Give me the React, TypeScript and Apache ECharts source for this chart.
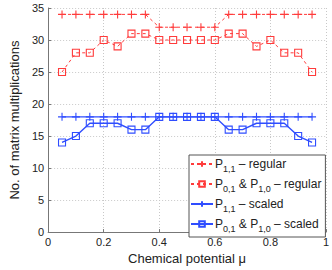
import React, { useEffect, useRef } from "react";
import * as echarts from "echarts";

const mu = [0.05, 0.1, 0.15, 0.2, 0.25, 0.3, 0.35, 0.4, 0.45, 0.5, 0.55, 0.6, 0.65, 0.7, 0.75, 0.8, 0.85, 0.9, 0.95];
const p11Regular = [34, 34, 34, 34, 34, 34, 34, 32, 32, 32, 32, 32, 34, 34, 34, 34, 34, 34, 34];
const p01Regular = [25, 28, 28, 30, 29, 31, 31, 30, 30, 30, 30, 30, 31, 31, 29, 30, 28, 28, 25];
const p11Scaled = [18, 18, 18, 18, 18, 18, 18, 18, 18, 18, 18, 18, 18, 18, 18, 18, 18, 18, 18];
const p01Scaled = [14, 15, 17, 17, 17, 16, 16, 18, 18, 18, 18, 18, 16, 16, 17, 17, 17, 15, 14];

const names = ["p11r", "p01r", "p11s", "p01s"];
const labels: Record<string, string> = {
  p11r: "P{sub|1,1} – regular",
  p01r: "P{sub|0,1} & P{sub|1,0} – regular",
  p11s: "P{sub|1,1} – scaled",
  p01s: "P{sub|0,1} & P{sub|1,0} – scaled",
};

const RED = "#ff3b3b";
const BLUE = "#2f4dff";
const PLUS = "path://M5,0L5,10M0,5L10,5";
const FONT = "Liberation Sans, Arial, sans-serif";

function pairs(ys: number[]) {
  return mu.map((x, i) => [x, ys[i]]);
}

export default function App() {
  const ref = useRef<HTMLDivElement>(null);
  useEffect(() => {
    const chart = echarts.init(ref.current!, null, { renderer: "svg" });
    const mk = (name: string, ys: number[], color: string, dashed: boolean, plus: boolean) => ({
      name,
      type: "line",
      data: pairs(ys),
      symbol: plus ? PLUS : "rect",
      symbolSize: plus ? 8 : 7,
      showAllSymbol: true,
      lineStyle: { color, width: dashed ? 1 : 1.4, type: dashed ? [3, 3] : "solid" },
      itemStyle: { color: "transparent", borderColor: color, borderWidth: 1.1 },
      z: plus ? 3 : 2,
    });
    const axisCommon = {
      nameLocation: "middle",
      nameTextStyle: { fontSize: 13, color: "#222", fontFamily: FONT },
      axisLine: { show: true, lineStyle: { color: "#777", width: 1 } },
      axisTick: { show: true, inside: true, length: 3, lineStyle: { color: "#777" } },
      splitLine: { show: true, lineStyle: { color: "#c8c8c8", type: [1, 2] } },
    };
    chart.setOption({
      animation: false,
      textStyle: { fontFamily: FONT },
      grid: { left: 33, right: 5, top: 8, bottom: 30, containLabel: false },
      xAxis: {
        ...axisCommon,
        type: "value",
        min: 0,
        max: 1,
        interval: 0.2,
        name: "Chemical potential μ",
        nameGap: 17,
        axisLabel: { fontSize: 11, color: "#222", margin: 4, formatter: (v: number) => (v === 0 ? "0" : v === 1 ? "1" : String(v)) },
      },
      yAxis: {
        ...axisCommon,
        type: "value",
        min: 0,
        max: 35,
        interval: 5,
        name: "No. of matrix multiplications",
        nameGap: 19,
        axisLabel: { fontSize: 11, color: "#222", margin: 4 },
      },
      legend: {
        orient: "vertical",
        left: 189,
        top: 155,
        itemWidth: 22,
        itemHeight: 7,
        itemGap: 5,
        padding: [3, 4, 4, 1],
        backgroundColor: "#fff",
        borderColor: "#555",
        borderWidth: 1,
        data: names,
        formatter: (n: string) => labels[n],
        textStyle: {
          fontSize: 12,
          color: "#222",
          fontFamily: FONT,
          padding: [0, 0, 0, -3],
          rich: { sub: { fontSize: 9, verticalAlign: "bottom", padding: [9, 0, 0, 0], color: "#222", fontFamily: FONT } },
        },
      },
      series: [
        mk("p11r", p11Regular, RED, true, true),
        mk("p01r", p01Regular, RED, true, false),
        mk("p11s", p11Scaled, BLUE, false, true),
        mk("p01s", p01Scaled, BLUE, false, false),
      ],
    });
    return () => chart.dispose();
  }, []);
  return <div ref={ref} style={{ width: 332, height: 270, position: "absolute", left: 0, top: 0, background: "#fff" }} />;
}
